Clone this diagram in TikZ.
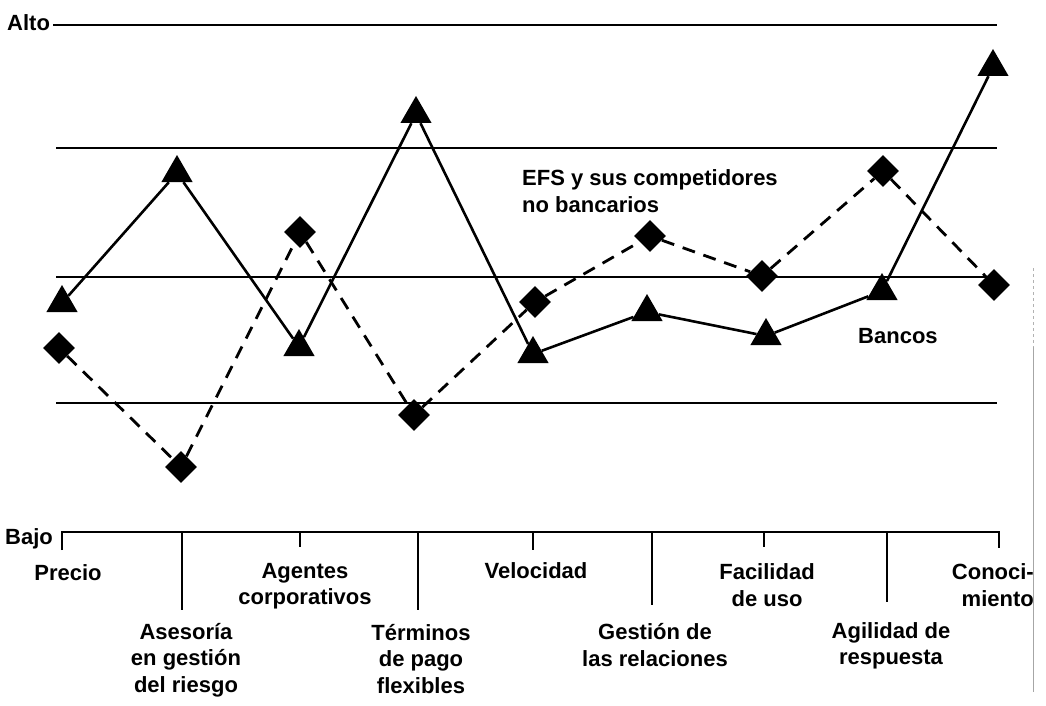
\documentclass[tikz,border=0pt]{standalone}
\usepackage{fontspec}
\setmainfont{Liberation Sans}
\usetikzlibrary{shapes.geometric}

\begin{document}
\begin{tikzpicture}[x=1pt, y=-1pt,
        every node/.style={font=\fontsize{22}{26.5}\selectfont\bfseries, inner sep=0pt},
        gridline/.style={line width=2pt},
        axisline/.style={line width=1.8pt},
        tri/.style={regular polygon, regular polygon sides=3, minimum size=36pt, fill=black},
        dia/.style={diamond, minimum width=32pt, minimum height=32pt, fill=black},
        lab/.style={align=center},
        banline/.style={line width=2.6pt, line join=round},
        efsline/.style={line width=2.8pt, dash pattern=on 13pt off 9pt},
    ]
    \useasboundingbox (0,0) rectangle (1046,706);

    % Level lines
    \node[anchor=base west] (alto) at (7,31) {Alto};
    \draw[gridline] (53,25) -- (997,25);
    \draw[gridline] (56,148) -- (997,148);
    \draw[gridline] (56,277) -- (997,277);
    \draw[gridline] (56,403) -- (997,403);

    % Bottom axis
    \node[anchor=base west] (bajo) at (5,544) {Bajo};
    \draw[axisline] (62,550) -- (62,532) -- (999,532) -- (999,548);
    \foreach \x/\e in {182/610, 300/547, 418/610, 533/550, 652/605, 764/547, 887/602}
        \draw[axisline] (\x,532) -- (\x,\e);
    \draw[gray!60, line width=1pt, dashed] (1033,268) -- (1033,347);
    \draw[gray!70, line width=1pt] (1033,347) -- (1033,692);

    % Categories
    \node[anchor=base] (precio) at (68,580) {Precio};
    \node[lab] (asesoria) at (186,660) {Asesoría\\en gestión\\del riesgo};
    \node[lab] (agentes) at (305,586) {Agentes\\corporativos};
    \node[lab] (terminos) at (421,659) {Términos\\de pago\\flexibles};
    \node[anchor=base] (velocidad) at (536,578) {Velocidad};
    \node[lab] (gestion) at (655,645) {Gestión de\\las relaciones};
    \node[lab] (facilidad) at (767,585) {Facilidad\\de uso};
    \node[lab] (agilidad) at (891,646) {Agilidad de\\respuesta};
    \node[align=right, anchor=east] (conoc) at (1034,585) {Conoci-\\miento};

    % Bancos
    \node[tri] (ban1) at (62,303) {};
    \node[tri] (ban2) at (177,173) {};
    \node[tri] (ban3) at (299,347) {};
    \node[tri] (ban4) at (416,114) {};
    \node[tri] (ban5) at (533,354) {};
    \node[tri] (ban6) at (647,312) {};
    \node[tri] (ban7) at (766,336) {};
    \node[tri] (ban8) at (882,291) {};
    \node[tri] (ban9) at (993,67) {};
    \draw[banline] (ban1) -- (ban2) -- (ban3) -- (ban4) -- (ban5) -- (ban6) -- (ban7) -- (ban8) -- (ban9);
    \node[anchor=base west] (banlab) at (858,343) {Bancos};

    % EFS y competidores no bancarios
    \node[dia] (efs1) at (59,348) {};
    \node[dia] (efs2) at (181,467) {};
    \node[dia] (efs3) at (300,232) {};
    \node[dia] (efs4) at (414,415) {};
    \node[dia] (efs5) at (535,302) {};
    \node[dia] (efs6) at (650,236) {};
    \node[dia] (efs7) at (762,276) {};
    \node[dia] (efs8) at (883,171) {};
    \node[dia] (efs9) at (994,285) {};
    \draw[efsline] (efs1) -- (efs2) -- (efs3) -- (efs4) -- (efs5) -- (efs6) -- (efs7) -- (efs8) -- (efs9);
    \node[align=left, anchor=west] (efslab) at (522,191) {EFS y sus competidores\\no bancarios};
\end{tikzpicture}
\end{document}
